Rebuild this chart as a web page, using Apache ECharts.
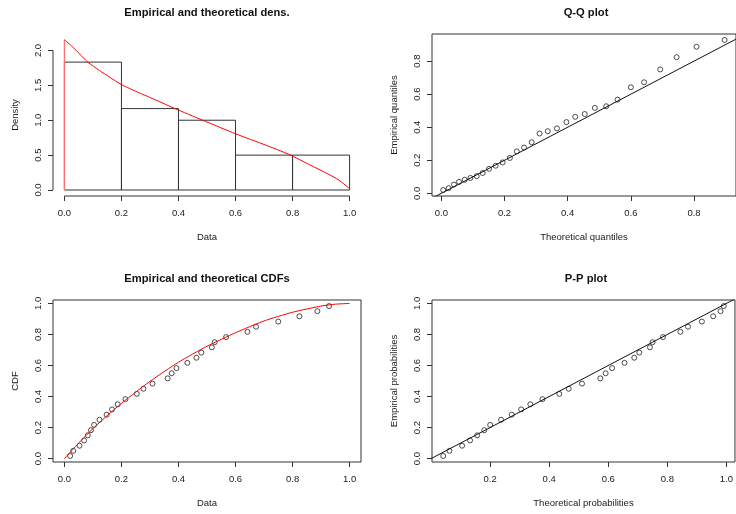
<!DOCTYPE html>
<html><head><meta charset="utf-8">
<script src="https://cdn.jsdelivr.net/npm/echarts@6/dist/echarts.min.js"></script>
<style>html,body{margin:0;padding:0;background:#fff;overflow:hidden}#c{width:736px;height:514px}</style>
</head><body><div id="c"></div>
<script>
// ---- data ----
const histBreaks = [0, 0.2, 0.4, 0.6, 0.8, 1.0];
const histDensity = [1.833, 1.167, 1.0, 0.5, 0.5];
const densCurveX = [0, 0.029, 0.0525, 0.0816, 0.1225, 0.1575, 0.2, 0.263, 0.298, 0.345, 0.386, 0.485, 0.6, 0.706, 0.788, 0.858, 0.9275, 0.9625, 1.0];
const densCurveY = [2.155, 2.05, 1.954, 1.833, 1.715, 1.62, 1.511, 1.392, 1.33, 1.245, 1.17, 1.00, 0.806, 0.643, 0.509, 0.366, 0.223, 0.142, 0.02];
const densEdgeY = [0, 2.155];
const empData = [0.020,0.031,0.053,0.069,0.082,0.093,0.104,0.123,0.148,0.167,0.187,0.214,0.254,0.277,0.309,0.362,0.376,0.393,0.431,0.463,0.480,0.517,0.527,0.567,0.642,0.672,0.750,0.824,0.887,0.928];
const empProb = [0.017,0.050,0.083,0.117,0.150,0.183,0.217,0.250,0.283,0.317,0.350,0.383,0.417,0.450,0.483,0.517,0.550,0.583,0.617,0.650,0.683,0.717,0.750,0.783,0.817,0.850,0.883,0.917,0.950,0.983];
const theoQuant = [0.006,0.023,0.040,0.056,0.074,0.092,0.112,0.131,0.151,0.172,0.194,0.217,0.239,0.262,0.286,0.311,0.337,0.366,0.396,0.424,0.454,0.486,0.522,0.558,0.600,0.642,0.693,0.745,0.808,0.897];
const theoProb = [0.041,0.062,0.105,0.132,0.156,0.180,0.200,0.237,0.273,0.305,0.336,0.377,0.434,0.466,0.511,0.573,0.591,0.613,0.655,0.688,0.705,0.741,0.750,0.785,0.844,0.870,0.917,0.955,0.980,0.991];
const cdfCurveX = [0, 0.05, 0.1, 0.15, 0.2, 0.25, 0.3, 0.4, 0.5, 0.6, 0.7, 0.8, 0.9, 0.95, 1.0];
const cdfCurveY = [0, 0.100, 0.193, 0.277, 0.356, 0.428, 0.498, 0.621, 0.724, 0.811, 0.887, 0.943, 0.983, 0.995, 1.0];

// tick labels
const ticks01 = [0, 0.2, 0.4, 0.6, 0.8, 1.0];
const ticksQQ = [0, 0.2, 0.4, 0.6, 0.8];
const ticksDens = [0, 0.5, 1.0, 1.5, 2.0];

// axis ranges (R style 4% extension)
const histX = [-0.04, 1.04], histY = [-0.086, 2.236];
const qqX = [-0.0296, 0.933], qqY = [-0.0163, 0.9643];
const cdfX = [-0.04, 1.04], cdfY = [-0.022, 1.022];
const ppX = [0.003, 1.029], ppY = [-0.022, 1.022];

const FONT = 'Liberation Sans, Arial, Helvetica, sans-serif';
const TXT = '#1a1a1a', LINE = '#333';

const grids = [
  {left: 53, top: 34, width: 308, height: 162, show: false},
  {left: 432, top: 34, width: 308, height: 162, show: true, borderColor: LINE, borderWidth: 1},
  {left: 53, top: 300, width: 308, height: 162, show: true, borderColor: LINE, borderWidth: 1},
  {left: 432, top: 300, width: 308, height: 162, show: true, borderColor: LINE, borderWidth: 1}
];

function axis(gi, range, ticks, name, isY) {
  return {
    type: 'value', gridIndex: gi, min: range[0], max: range[1],
    position: isY ? 'left' : 'bottom',
    name: name, nameLocation: 'middle', nameGap: isY ? 33 : 36,
    nameTextStyle: {fontSize: 9.5, color: TXT, fontFamily: FONT},
    axisLine: {show: false, onZero: false},
    splitLine: {show: false},
    axisTick: {show: true, length: 5, customValues: ticks, lineStyle: {color: LINE, width: 1}},
    axisLabel: {customValues: ticks, formatter: v => v.toFixed(1), fontSize: 9.5, color: TXT,
      fontFamily: FONT, rotate: isY ? 90 : 0, margin: isY ? 10 : 12, showMinLabel: true, showMaxLabel: true}
  };
}

const pts = (xs, ys) => xs.map((x, i) => [x, ys[i]]);
const circ = {symbol: 'circle', symbolSize: 5, itemStyle: {color: 'transparent', borderColor: '#222', borderWidth: 1}};

const option = {
  animation: false,
  backgroundColor: '#fff',
  textStyle: {fontFamily: FONT},
  title: [
    {text: 'Empirical and theoretical dens.', left: 207, top: 7, textAlign: 'center', padding: 0},
    {text: 'Q-Q plot', left: 586, top: 7, textAlign: 'center', padding: 0},
    {text: 'Empirical and theoretical CDFs', left: 207, top: 273, textAlign: 'center', padding: 0},
    {text: 'P-P plot', left: 586, top: 273, textAlign: 'center', padding: 0}
  ].map(t => Object.assign(t, {textStyle: {fontSize: 11.2, fontWeight: 'bold', color: '#111', fontFamily: FONT}})),
  grid: grids,
  xAxis: [
    axis(0, histX, ticks01, 'Data', false),
    axis(1, qqX, ticksQQ, 'Theoretical quantiles', false),
    axis(2, cdfX, ticks01, 'Data', false),
    axis(3, ppX, ticks01, 'Theoretical probabilities', false)
  ],
  yAxis: [
    axis(0, histY, ticksDens, 'Density', true),
    axis(1, qqY, ticksQQ, 'Empirical quantiles', true),
    axis(2, cdfY, ticks01, 'CDF', true),
    axis(3, ppY, ticks01, 'Empirical probabilities', true)
  ],
  series: [
    { // histogram
      type: 'custom', xAxisIndex: 0, yAxisIndex: 0, silent: true,
      data: histDensity.map((d, i) => [histBreaks[i], histBreaks[i + 1], d]),
      renderItem: (params, api) => {
        const p0 = api.coord([api.value(0), api.value(2)]);
        const p1 = api.coord([api.value(1), 0]);
        return {type: 'rect', shape: {x: p0[0], y: p0[1], width: p1[0] - p0[0], height: p1[1] - p0[1]},
          style: {fill: 'none', stroke: LINE, lineWidth: 1}};
      }
    },
    { // hist x-axis line
      type: 'line', xAxisIndex: 0, yAxisIndex: 0, clip: false, symbol: 'none', silent: true,
      data: [[ticks01[0], histY[0]], [ticks01[ticks01.length - 1], histY[0]]],
      lineStyle: {color: LINE, width: 1}
    },
    { // hist y-axis line
      type: 'line', xAxisIndex: 0, yAxisIndex: 0, clip: false, symbol: 'none', silent: true,
      data: [[histX[0], ticksDens[0]], [histX[0], ticksDens[ticksDens.length - 1]]],
      lineStyle: {color: LINE, width: 1}
    },
    { // density curve edge at x = 0
      type: 'line', xAxisIndex: 0, yAxisIndex: 0, symbol: 'none', silent: true,
      data: densEdgeY.map(v => [densCurveX[0], v]), lineStyle: {color: '#ff7070', width: 1.3}
    },
    { // density curve
      type: 'line', xAxisIndex: 0, yAxisIndex: 0, symbol: 'none', silent: true, smooth: 0.2,
      data: pts(densCurveX, densCurveY), lineStyle: {color: '#ff0000', width: 1}
    },
    Object.assign({type: 'scatter', xAxisIndex: 1, yAxisIndex: 1, data: pts(theoQuant, empData)}, circ),
    {
      type: 'line', xAxisIndex: 1, yAxisIndex: 1, symbol: 'none', silent: true,
      data: [[qqX[0], qqX[0]], [qqX[1], qqX[1]]], lineStyle: {color: '#111', width: 1}
    },
    Object.assign({type: 'scatter', xAxisIndex: 2, yAxisIndex: 2, data: pts(empData, empProb)}, circ),
    {
      type: 'line', xAxisIndex: 2, yAxisIndex: 2, symbol: 'none', silent: true, smooth: 0.2,
      data: pts(cdfCurveX, cdfCurveY), lineStyle: {color: '#ff0000', width: 1}
    },
    Object.assign({type: 'scatter', xAxisIndex: 3, yAxisIndex: 3, data: pts(theoProb, empProb)}, circ),
    {
      type: 'line', xAxisIndex: 3, yAxisIndex: 3, symbol: 'none', silent: true,
      data: [[-0.1, -0.1], [1.1, 1.1]], lineStyle: {color: '#111', width: 1}
    }
  ]
};
const chart = echarts.init(document.getElementById('c'), null, {renderer: 'canvas'});
chart.setOption(option);
</script></body></html>
